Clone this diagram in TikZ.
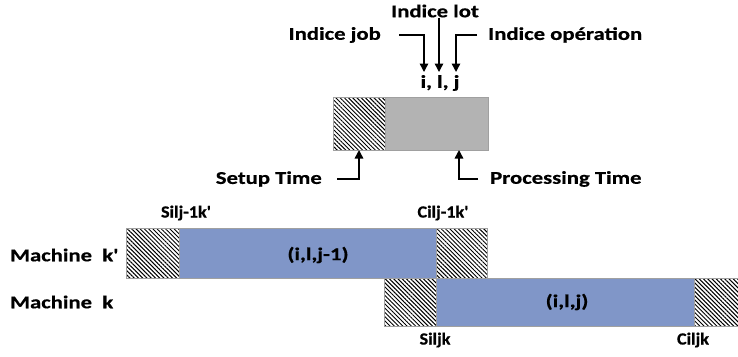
\documentclass[tikz,border=0pt]{standalone}
\usepackage{fontspec}
\setmainfont{Carlito}[FakeStretch=1.26, Ligatures=TeXOff, BoldFeatures={FakeBold=0.6}]
\newfontfamily\smallfnt{Carlito}[FakeStretch=1.07, Ligatures=TeXOff, BoldFeatures={FakeBold=0.6}]
\usetikzlibrary{patterns.meta,arrows.meta}
\definecolor{boxgray}{RGB}{179,179,179}
\definecolor{boxblue}{RGB}{128,150,200}
\definecolor{edgegray}{RGB}{160,160,160}
\tikzset{
  cell/.style={draw=edgegray, line width=0.8pt, inner sep=0pt, outer sep=0pt, anchor=north west},
  hatch/.style={cell, fill=white, pattern={Lines[angle=-45,distance=3pt,line width=1pt]}, pattern color=black},
  grayp/.style={cell, fill=boxgray},
  bluep/.style={cell, fill=boxblue},
  lbl/.style={font=\bfseries\fontsize{18}{20}\selectfont, inner sep=0pt},
  slbl/.style={font=\smallfnt\bfseries\fontsize{17}{20}\selectfont, inner sep=0pt},
  arr/.style={line width=1.4pt, -{Triangle[width=8.5pt,length=8.5pt]}},
}
\begin{document}
\begin{tikzpicture}[x=1pt,y=-1pt]
\useasboundingbox (0,0) rectangle (738,356);
% top legend box
\node[hatch, minimum width=52pt, minimum height=53pt] (h0) at (333,97) {};
\node[grayp, minimum width=103pt, minimum height=53pt] (p0) at (385,97) {};
% labels top
\node[lbl] (lot) at (435,11) {Indice lot};
\node[lbl, anchor=east] (job) at (381,35) {Indice job};
\node[lbl, anchor=west] (op) at (488,35) {Indice opération};
\node[lbl] (ilj) at (440,83) {i, l, j};
\coordinate (ti) at (424,72);
\coordinate (tl) at (439,72);
\coordinate (tj) at (456,72);
\draw[arr] ([xshift=18pt]job.east) -| (ti);
\draw[arr] (lot.south -| tl) -- (tl);
\draw[arr] ([xshift=-11pt]op.west) -| (tj);
% setup / processing
\node[lbl, anchor=east] (setup) at (322,179) {Setup Time};
\node[lbl, anchor=west] (proc) at (490,179) {Processing Time};
\draw[arr] ([xshift=15pt]setup.east) -| (h0.south);
\coordinate (pt) at (459,150);
\draw[arr] ([xshift=-12pt]proc.west) -| (pt);
% Gantt rows
\node[hatch, minimum width=53pt, minimum height=50pt] (h1) at (126,228) {};
\node[bluep, minimum width=257pt, minimum height=50pt] (b1) at (179,228) {};
\node[hatch, minimum width=51pt, minimum height=50pt] (h2) at (436,228) {};
\node[hatch, minimum width=52pt, minimum height=48pt] (h3) at (384,278) {};
\node[bluep, minimum width=258pt, minimum height=48pt] (b2) at (436,278) {};
\node[hatch, minimum width=46pt, minimum height=48pt] (h4) at (694,278) {};
\node[lbl] (t1) at (318,255) {(i,l,j-1)};
\node[lbl] (t2) at (567,302) {(i,l,j)};
\node[lbl, anchor=west] (mk1) at (10,255) {Machine\ \ k'};
\node[lbl, anchor=west] (mk) at (10,302) {Machine\ \ k};
\node[slbl] (s1) at (186,213) {Silj-1k'};
\node[slbl] (c1) at (443,213) {Cilj-1k'};
\node[slbl] (s2) at (435,340) {Siljk};
\node[slbl] (c2) at (693,340) {Ciljk};
\end{tikzpicture}
\end{document}
